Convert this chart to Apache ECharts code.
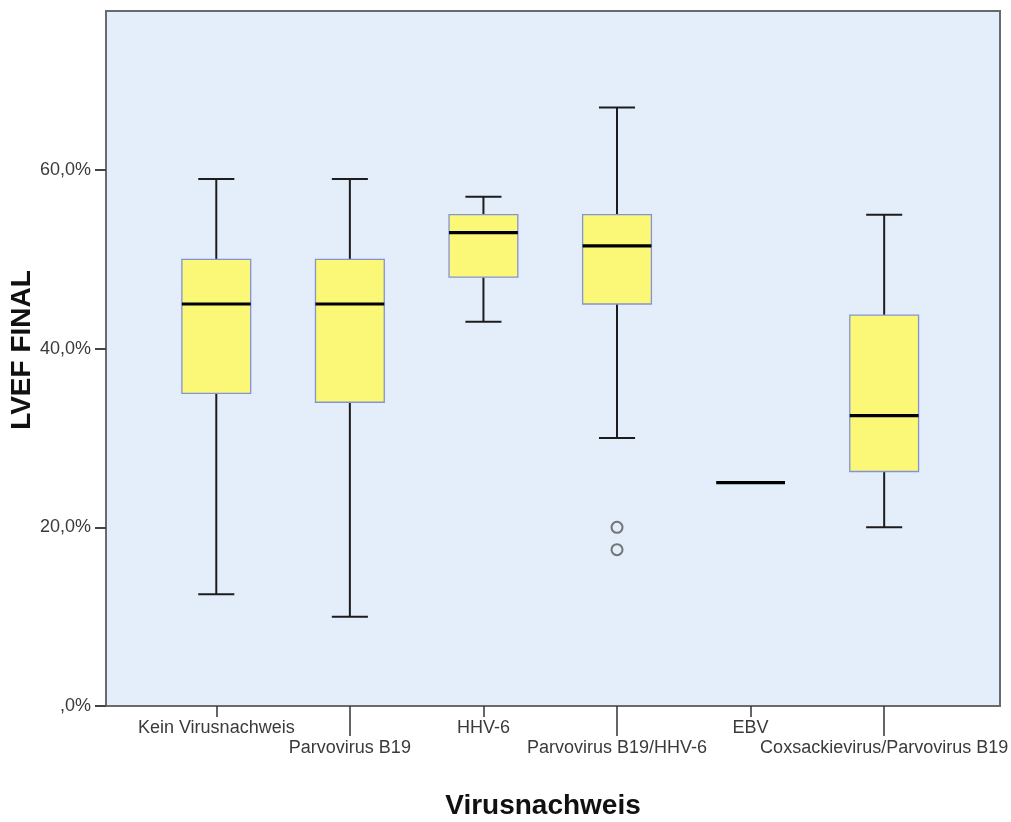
<!DOCTYPE html>
<html>
<head>
<meta charset="utf-8">
<script src="https://cdn.jsdelivr.net/npm/echarts@6/dist/echarts.min.js"></script>
<style>
html,body{margin:0;padding:0;background:#fff;}
#chart{width:1011px;height:822px;}
</style>
</head>
<body>
<div id="chart"></div>
<script>
// ---- data ----
const categories = ['Kein Virusnachweis', 'Parvovirus B19', 'HHV-6', 'Parvovirus B19/HHV-6', 'EBV', 'Coxsackievirus/Parvovirus B19'];
const whiskerLow  = [12.5, 10,   43, 30,   25, 20];
const quartile1   = [35,   34,   48, 45,   25, 26.25];
const medians     = [45,   45,   53, 51.5, 25, 32.5];
const quartile3   = [50,   50,   55, 55,   25, 43.75];
const whiskerHigh = [59,   59,   57, 67,   25, 55];
const outlierCat  = [3, 3];
const outlierVal  = [20, 17.5];
const yTitle = 'LVEF FINAL';
const xTitle = 'Virusnachweis';

const boxData = categories.map((c, i) => [i, whiskerLow[i], quartile1[i], medians[i], quartile3[i], whiskerHigh[i]]);
const outlierData = outlierCat.map((c, i) => [c, outlierVal[i]]);

const chart = echarts.init(document.getElementById('chart'), null, {renderer: 'canvas'});
const labelFont = 'Liberation Sans, Arial, sans-serif';

function renderBox(params, api) {
  const idx = api.value(0);
  const lo = api.value(1), q1 = api.value(2), md = api.value(3), q3 = api.value(4), hi = api.value(5);
  const band = api.size([1, 0])[0];
  const cx = api.coord([idx, md])[0];
  const yLo = api.coord([idx, lo])[1];
  const yQ1 = api.coord([idx, q1])[1];
  const yMd = api.coord([idx, md])[1];
  const yQ3 = api.coord([idx, q3])[1];
  const yHi = api.coord([idx, hi])[1];
  const bw = band * 0.515, cw = band * 0.27;
  const children = [];
  const wStyle = {stroke: '#1c1c1c', lineWidth: 2};
  if (hi > lo) {
    children.push({type: 'line', shape: {x1: cx, y1: yHi, x2: cx, y2: yQ3}, style: wStyle});
    children.push({type: 'line', shape: {x1: cx, y1: yQ1, x2: cx, y2: yLo}, style: wStyle});
    children.push({type: 'line', shape: {x1: cx - cw / 2, y1: yHi, x2: cx + cw / 2, y2: yHi}, style: wStyle});
    children.push({type: 'line', shape: {x1: cx - cw / 2, y1: yLo, x2: cx + cw / 2, y2: yLo}, style: wStyle});
  }
  if (q3 > q1) {
    children.push({type: 'rect', shape: {x: cx - bw / 2, y: yQ3, width: bw, height: yQ1 - yQ3},
      style: {fill: '#FBF877', stroke: '#8593D2', lineWidth: 1.3}});
  }
  children.push({type: 'line', shape: {x1: cx - bw / 2, y1: yMd, x2: cx + bw / 2, y2: yMd},
    style: {stroke: '#000', lineWidth: 3.2}});
  return {type: 'group', children: children};
}

const option = {
  backgroundColor: '#ffffff',
  animation: false,
  grid: [
    {left: 106, right: 11, top: 11, bottom: 116, show: true, backgroundColor: '#E3EEFA', borderColor: '#6a6a6a', borderWidth: 2},
    {left: 149.5, right: 57.5, top: 11, bottom: 116}
  ],
  xAxis: [
    {type: 'value', gridIndex: 0, min: 0, max: 1, show: false},
    {type: 'category', gridIndex: 1, data: categories, position: 'bottom',
      axisLine: {show: false}, splitLine: {show: false},
      axisTick: {show: true, alignWithLabel: true, length: 11, interval: (i) => i % 2 === 0, lineStyle: {color: '#333', width: 1.5}},
      axisLabel: {interval: (i) => i % 2 === 0, margin: 13, color: '#3a3a3a', fontSize: 18, fontFamily: labelFont}},
    {type: 'category', gridIndex: 1, data: categories, position: 'bottom',
      axisLine: {show: false}, splitLine: {show: false},
      axisTick: {show: true, alignWithLabel: true, length: 30, interval: (i) => i % 2 === 1, lineStyle: {color: '#333', width: 1.5}},
      axisLabel: {interval: (i) => i % 2 === 1, margin: 33, color: '#3a3a3a', fontSize: 18, fontFamily: labelFont}}
  ],
  yAxis: [
    {type: 'value', gridIndex: 0, min: 0, max: 77.8, interval: 20,
      axisLine: {show: false}, splitLine: {show: false},
      axisTick: {show: true, length: 11, lineStyle: {color: '#444', width: 2}},
      axisLabel: {margin: 15, color: '#3a3a3a', fontSize: 18, fontFamily: labelFont, showMaxLabel: false,
        formatter: (v) => v === 0 ? ',0%' : v.toFixed(1).replace('.', ',') + '%'}},
    {type: 'value', gridIndex: 1, min: 0, max: 77.8, interval: 20, show: false}
  ],
  series: [
    {type: 'custom', xAxisIndex: 1, yAxisIndex: 1, renderItem: renderBox, data: boxData,
      encode: {x: 0, y: [1, 2, 3, 4, 5]}, z: 5},
    {type: 'scatter', xAxisIndex: 1, yAxisIndex: 1, data: outlierData, symbol: 'circle', symbolSize: 11,
      itemStyle: {color: 'rgba(0,0,0,0)', borderColor: '#555', borderWidth: 2}, z: 6}
  ],
  graphic: [
    {type: 'text', x: 543, y: 806, style: {text: xTitle, font: 'bold 28px Liberation Sans, Arial, sans-serif', fill: '#111', textAlign: 'center', textVerticalAlign: 'middle'}},
    {type: 'text', x: 22, y: 350, rotation: Math.PI / 2, style: {text: yTitle, font: 'bold 28px Liberation Sans, Arial, sans-serif', fill: '#111', textAlign: 'center', textVerticalAlign: 'middle'}}
  ]
};
chart.setOption(option);
</script>
</body>
</html>
